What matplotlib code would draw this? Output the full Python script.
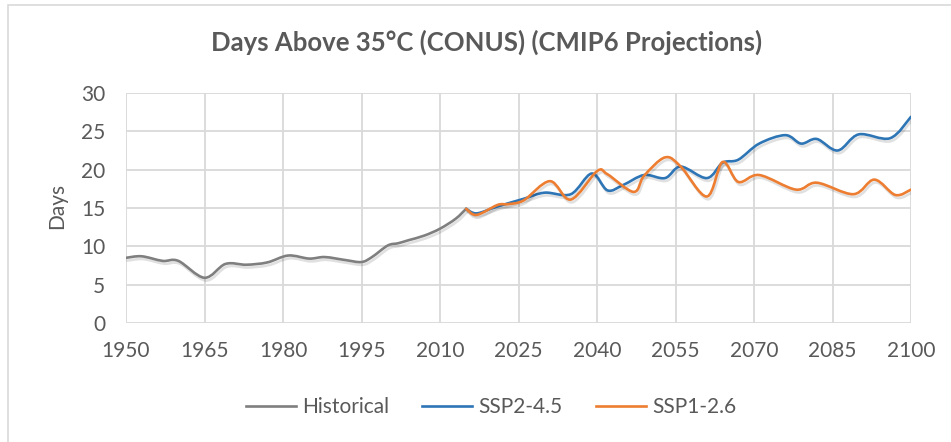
import numpy as np
import matplotlib
matplotlib.use("Agg")
import matplotlib.pyplot as plt
import matplotlib.patheffects as pe
from matplotlib.path import Path
from matplotlib.patches import PathPatch, Rectangle
from matplotlib.lines import Line2D

plt.rcParams['font.family'] = ['Lato', 'DejaVu Sans']

# values
hist_years = [1950, 1953, 1957, 1960, 1965, 1969, 1973, 1977, 1981, 1985, 1988, 1992,
              1995, 1997, 2000, 2002, 2004, 2007, 2010, 2013, 2015]
hist_days = [8.5, 8.7, 8.1, 8.1, 5.9, 7.7, 7.6, 7.9, 8.8, 8.4, 8.6, 8.2,
             7.95, 8.6, 10.1, 10.4, 10.8, 11.4, 12.3, 13.6, 14.9]

ssp245_years = [2015, 2017, 2021, 2026, 2030, 2035, 2039, 2042, 2045, 2049, 2053, 2056,
                2061, 2064, 2067, 2071, 2076, 2079, 2082, 2086, 2090, 2096, 2100]
ssp245_days = [14.9, 14.3, 15.2, 16.2, 17.0, 16.8, 19.5, 17.3, 18.0, 19.3, 18.9, 20.4,
               18.9, 20.9, 21.3, 23.4, 24.5, 23.4, 24.0, 22.5, 24.6, 24.1, 26.9]

ssp126_years = [2015, 2017, 2021, 2023, 2026, 2031, 2035, 2040, 2042, 2047, 2049, 2053,
                2056, 2061, 2064, 2067, 2071, 2078, 2082, 2089, 2093, 2097, 2100]
ssp126_days = [14.9, 14.1, 15.4, 15.5, 16.0, 18.5, 16.1, 19.8, 19.4, 17.1, 19.2, 21.6,
               20.4, 16.5, 21.0, 18.4, 19.3, 17.4, 18.3, 16.8, 18.7, 16.7, 17.4]

series_names = ['Historical', 'SSP2-4.5', 'SSP1-2.6']
colors = ['#7f7f7f', '#2e75b6', '#ed7d31']
text_col = '#595959'
grid_col = '#d9d9d9'


def smooth_path(xs, ys):
    # excel style smoothed line: bezier segments through the data points
    pts = np.column_stack([xs, ys]).astype(float)
    n = len(pts)
    verts = [pts[0]]
    codes = [Path.MOVETO]
    for i in range(n - 1):
        p0 = pts[i - 1] if i > 0 else pts[i]
        p1 = pts[i]
        p2 = pts[i + 1]
        p3 = pts[i + 2] if i + 2 < n else pts[i + 1]
        verts += [p1 + (p2 - p0) / 6, p2 - (p3 - p1) / 6, p2]
        codes += [Path.CURVE4] * 3
    return Path(verts, codes)


fig = plt.figure(figsize=(9.51, 4.42), dpi=100)
ax = fig.add_axes([126 / 951, 1 - 323 / 442, 785 / 951, 230 / 442])

# chart area border
fig.patches.append(Rectangle((8 / 951, -0.1), 1.2, 1.1 - 5 / 442, transform=fig.transFigure,
                             fill=False, edgecolor=grid_col, lw=1.2))

data = [(hist_years, hist_days), (ssp245_years, ssp245_days), (ssp126_years, ssp126_days)]
for (xs, ys), col in zip(data, colors):
    patch = PathPatch(smooth_path(xs, ys), facecolor='none', edgecolor=col, lw=1.9,
                      capstyle='round', joinstyle='round', zorder=3)
    patch.set_path_effects([pe.SimpleLineShadow(offset=(1, -2), shadow_color='k', alpha=0.12),
                            pe.Normal()])
    ax.add_patch(patch)

ax.set_xlim(1950, 2100)
ax.set_ylim(0, 30)
ax.set_xticks(np.arange(1950, 2101, 15))
ax.set_yticks(np.arange(0, 31, 5))
ax.grid(True, color=grid_col, lw=1.3)
ax.set_axisbelow(True)
for s in ax.spines.values():
    s.set_visible(False)
ax.tick_params(length=0, labelsize=15, labelcolor=text_col)
ax.tick_params(axis='y', pad=15)
ax.tick_params(axis='x', pad=13)

fig.text(57 / 951, 1 - 206 / 442, 'Days', rotation=90, ha='center', va='center',
         fontsize=15, color=text_col)
fig.text(487 / 951, 1 - 42 / 442, 'Days Above 35°C (CONUS) (CMIP6 Projections)',
         ha='center', va='center', fontsize=18.5, fontweight='bold', color=text_col)

handles = [Line2D([], [], color=c, lw=1.9) for c in colors]
fig.legend(handles, series_names, loc='center', bbox_to_anchor=(491 / 951, 1 - 407 / 442),
           ncol=3, frameon=False, fontsize=15, labelcolor=text_col, handlelength=2.4,
           handletextpad=0.3, columnspacing=1.6)

fig.savefig('out.png', dpi=100)
